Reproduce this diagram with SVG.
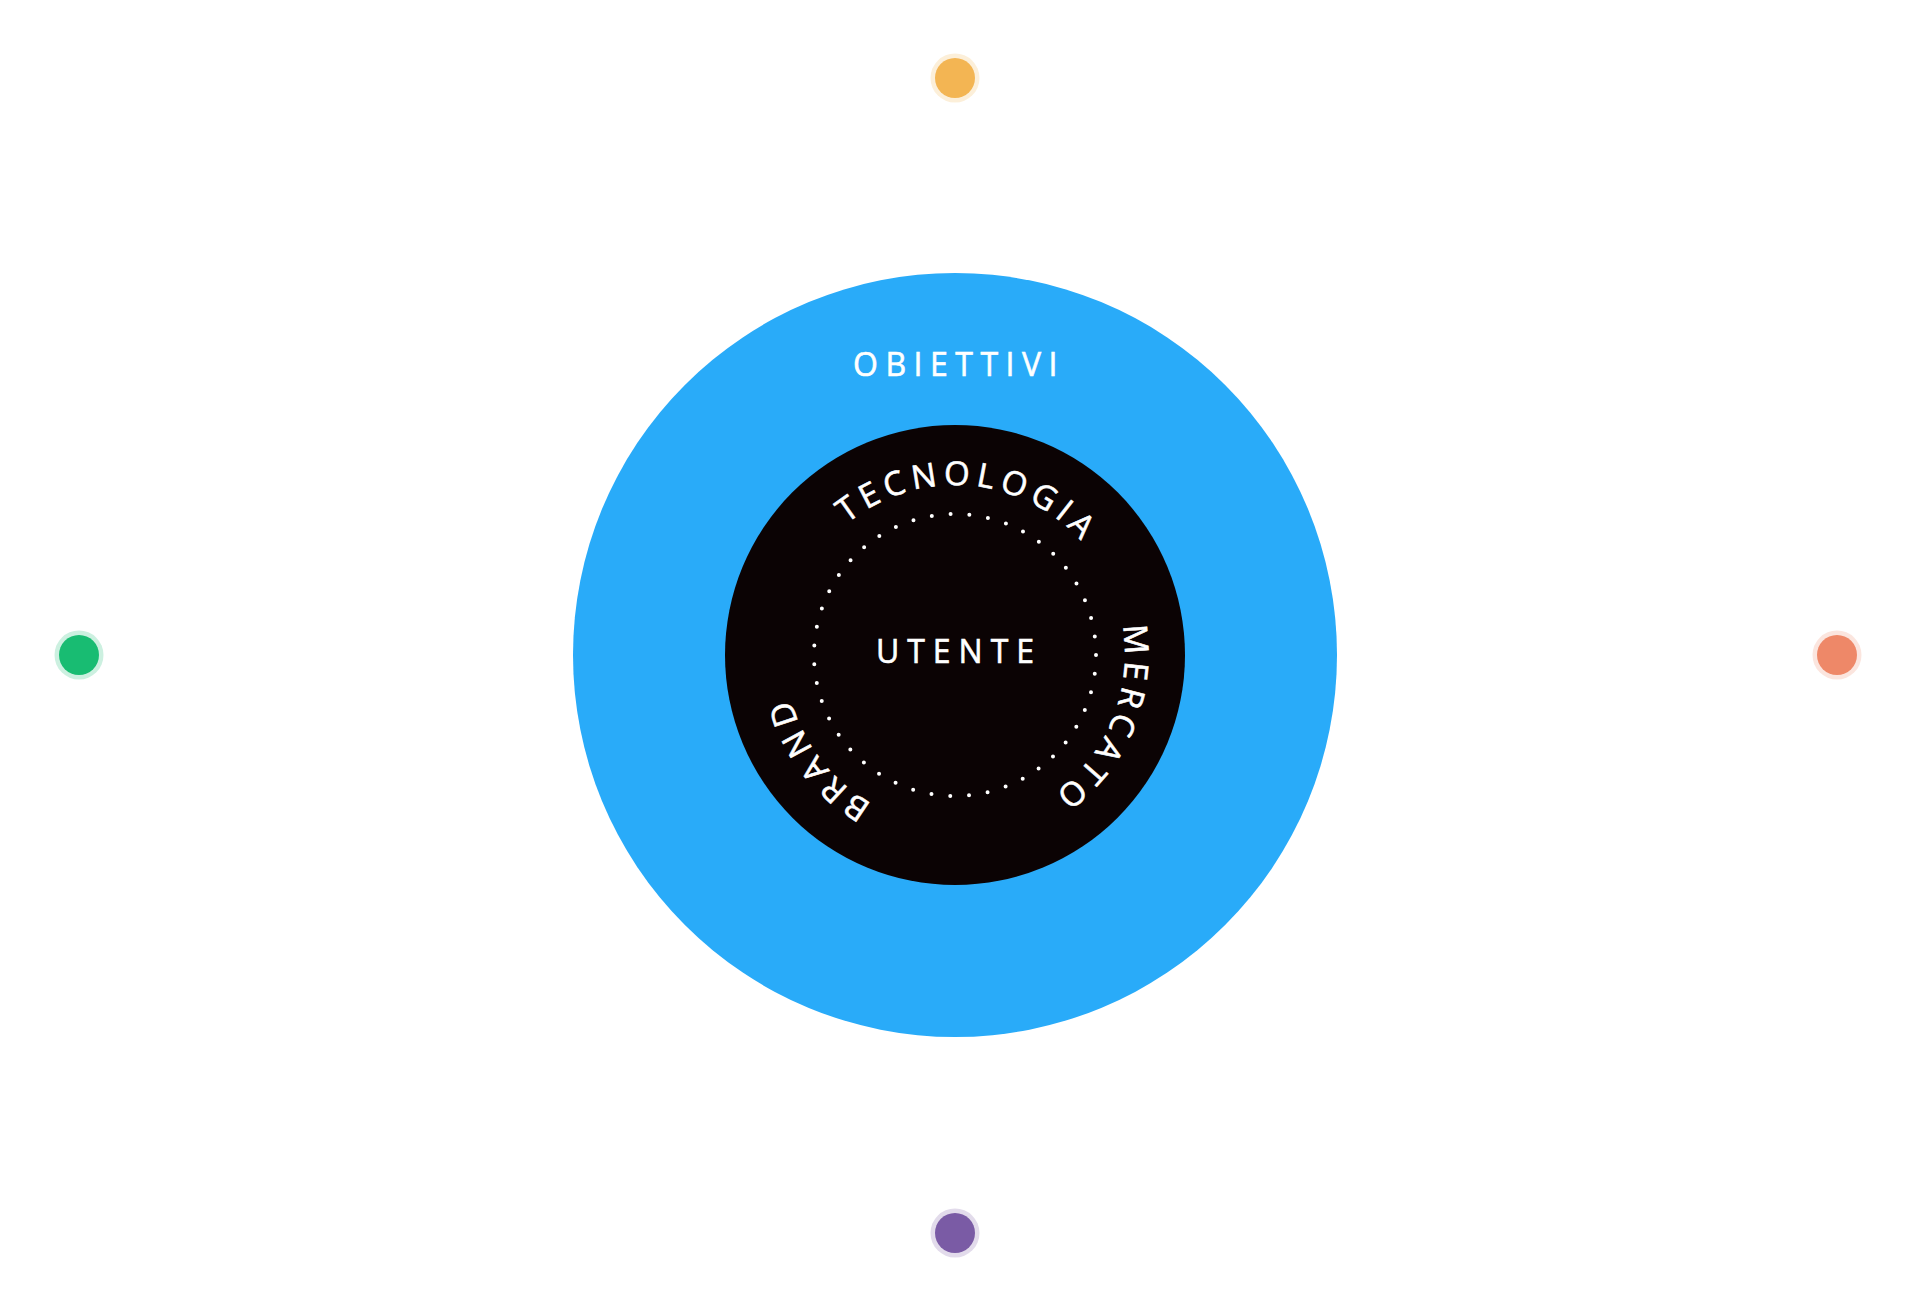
<svg xmlns="http://www.w3.org/2000/svg" width="1920" height="1313" viewBox="0 0 1920 1313">
  <style>
    .lbl { font-family: "Open Sans", "Noto Sans", "Liberation Sans", sans-serif; font-size: 32px; font-weight: 500; fill: #ffffff; stroke: #ffffff; stroke-width: 0.6px; }
    .arc { letter-spacing: 6px; font-size: 33px; }
    .ring { fill-opacity: 0.22; }
  </style>
  <defs>
    <path id="textCircle" d="M 785,655 A 170 170 0 1 1 1125,655 A 170 170 0 1 1 785,655"/>
  </defs>
  <rect width="1920" height="1313" fill="#ffffff"/>
  <g id="connectors"/>
  <g id="obiettivi">
    <circle cx="955" cy="655" r="382" fill="#29abf9"/>
    <text class="lbl" x="959" y="376" text-anchor="middle" style="letter-spacing:7.5px">OBIETTIVI</text>
  </g>
  <g id="utente">
    <circle cx="955" cy="655" r="230" fill="#0b0304"/>
    <circle cx="955" cy="655" r="141" fill="none" stroke="#ffffff" stroke-width="4" stroke-linecap="round" stroke-dasharray="0 18.849"/>
    <text class="lbl" x="959" y="663" text-anchor="middle" style="letter-spacing:8px">UTENTE</text>
  </g>
  <g id="tecnologia">
    <text class="lbl arc"><textPath href="#textCircle" startOffset="282" text-anchor="middle">TECNOLOGIA</textPath></text>
  </g>
  <g id="mercato">
    <text class="lbl arc"><textPath href="#textCircle" startOffset="602" text-anchor="middle">MERCATO</textPath></text>
  </g>
  <g id="brand">
    <text class="lbl arc"><textPath href="#textCircle" startOffset="958" text-anchor="middle">BRAND</textPath></text>
  </g>
  <g id="dot-top">
    <circle class="ring" cx="955" cy="78" r="24.5" fill="#f3b553"/>
    <circle cx="955" cy="78" r="20" fill="#f3b553"/>
  </g>
  <g id="dot-left">
    <circle class="ring" cx="79" cy="655" r="24.5" fill="#18bc72"/>
    <circle cx="79" cy="655" r="20" fill="#18bc72"/>
  </g>
  <g id="dot-right">
    <circle class="ring" cx="1837" cy="655" r="24.5" fill="#ee8868"/>
    <circle cx="1837" cy="655" r="20" fill="#ee8868"/>
  </g>
  <g id="dot-bottom">
    <circle class="ring" cx="955" cy="1233" r="24.5" fill="#7a5ba5"/>
    <circle cx="955" cy="1233" r="20" fill="#7a5ba5"/>
  </g>
</svg>
